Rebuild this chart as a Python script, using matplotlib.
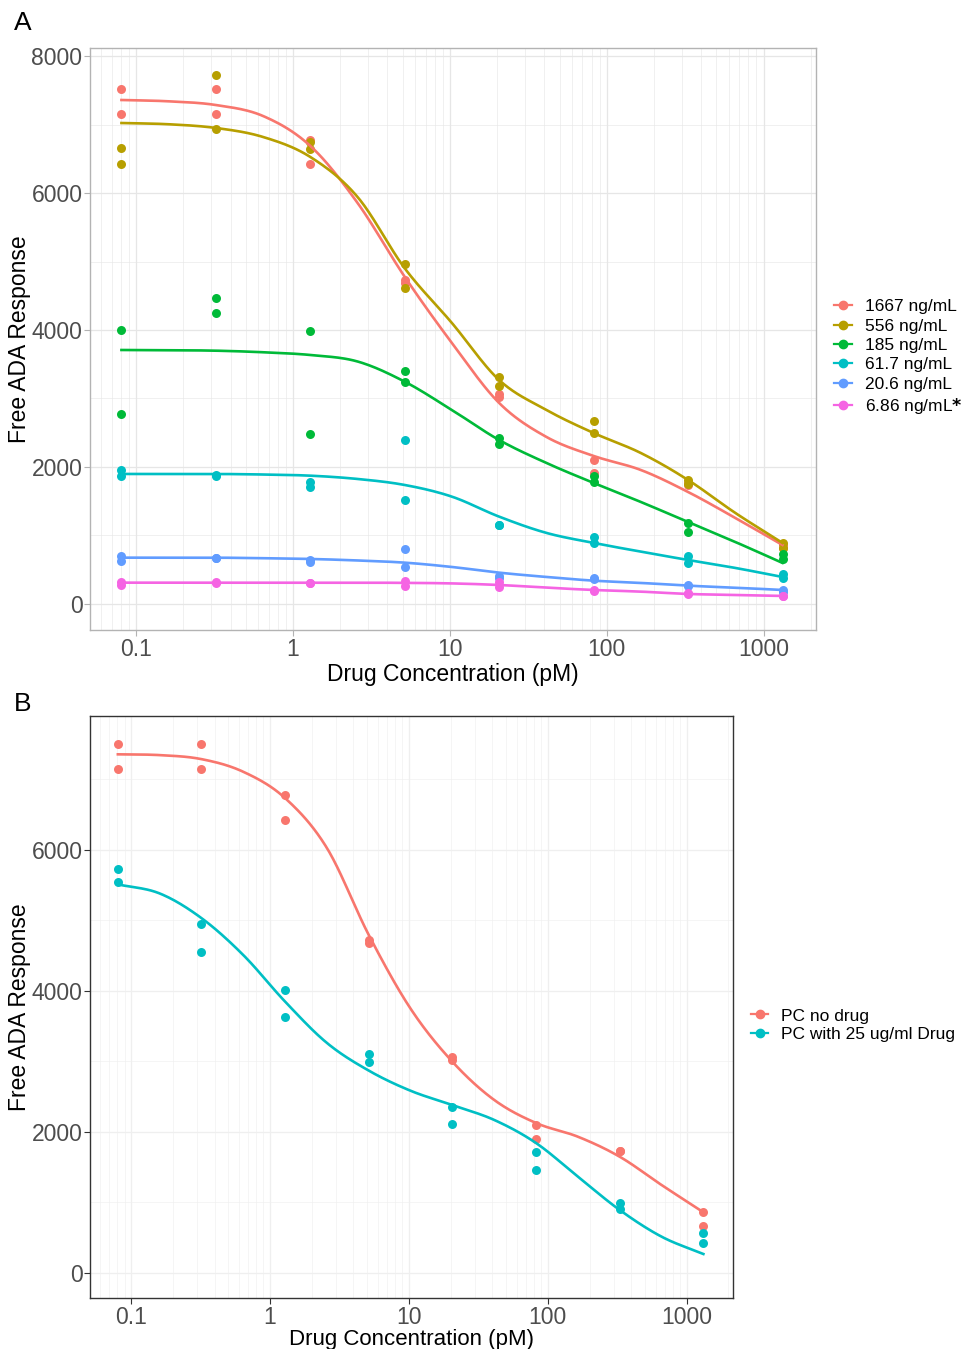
import numpy as np
import matplotlib
matplotlib.use("Agg")
import matplotlib.pyplot as plt
from matplotlib.lines import Line2D
from matplotlib.ticker import FixedLocator, NullFormatter

plt.rcParams['font.family'] = ['Liberation Sans', 'DejaVu Sans']

# 4-fold dilution series of drug (pM), two replicates each
conc = [0.0806, 0.322, 1.29, 5.16, 20.6, 82.5, 330, 1320]
fit_conc = [0.0806, 0.161, 0.322, 0.645, 1.29, 2.58, 5.16, 10.3,
            20.6, 41.3, 82.5, 165, 330, 660, 1320]

# panel A: free ADA response per ADA level (rep 1, rep 2 at each conc)
ada_1667 = [[7518, 7153], [7518, 7153], [6774, 6423], [4730, 4681],
            [3066, 3022], [2103, 1912], [1770, 1730], [860, 810]]
ada_556 = [[6661, 6423], [7730, 6934], [6745, 6642], [4964, 4613],
           [3314, 3183], [2672, 2496], [1810, 1752], [890, 818]]
ada_185 = [[4000, 2774], [4467, 4248], [3985, 2482], [3401, 3241],
           [2423, 2336], [1869, 1781], [1182, 1051], [730, 657]]
ada_61_7 = [[1956, 1869], [1883, 1869], [1781, 1708], [2394, 1518],
            [1153, 1153], [978, 891], [701, 599], [438, 380]]
ada_20_6 = [[701, 628], [672, 672], [642, 613], [803, 540],
            [409, 380], [380, 365], [277, 262], [204, 175]]
ada_6_86 = [[321, 277], [321, 310], [306, 300], [336, 263],
            [321, 248], [204, 190], [160, 146], [117, 110]]

# fitted curves in panel A (values at fit_conc)
fit_1667 = [7358, 7339, 7285, 7124, 6687, 5855, 4775, 3811, 2935, 2438,
            2161, 1956, 1635, 1256, 861]
fit_556 = [7022, 7004, 6950, 6818, 6526, 5942, 4900, 4103, 3270, 2832,
           2496, 2204, 1810, 1329, 891]
fit_185 = [3708, 3705, 3698, 3675, 3635, 3540, 3245, 2832, 2394, 2058,
           1767, 1489, 1197, 905, 599]
fit_61_7 = [1898, 1898, 1898, 1890, 1873, 1825, 1737, 1567, 1275, 1037,
            891, 764, 642, 526, 394]
fit_20_6 = [676, 676, 676, 668, 657, 635, 603, 540, 457, 394, 340, 307,
            267, 238, 204]
fit_6_86 = [311, 311, 311, 311, 311, 311, 308, 300, 277, 238, 204, 180,
            146, 131, 117]

labels_a = ["1667 ng/mL", "556 ng/mL", "185 ng/mL", "61.7 ng/mL",
            "20.6 ng/mL", "6.86 ng/mL"]
series_a = [ada_1667, ada_556, ada_185, ada_61_7, ada_20_6, ada_6_86]
fits_a = [fit_1667, fit_556, fit_185, fit_61_7, fit_20_6, fit_6_86]
colors_a = ["#F8766D", "#B79F00", "#00BA38", "#00BFC4", "#619CFF", "#F564E3"]

# panel B
pc_no_drug = [[7508, 7153], [7508, 7153], [6780, 6426], [4723, 4681],
              [3064, 3021], [2099, 1900], [1730, 1730], [865, 667]]
pc_drug = [[5735, 5550], [4950, 4557], [4014, 3631], [3106, 2993],
           [2359, 2113], [1720, 1461], [997, 908], [567, 426]]
fit_no_drug = [7357, 7346, 7289, 7109, 6735, 6026, 4793, 3750, 2997, 2453,
               2127, 1933, 1649, 1248, 861]
fit_drug = [5512, 5384, 5034, 4509, 3848, 3262, 2870, 2585, 2382, 2170,
            1843, 1366, 893, 515, 269]
labels_b = ["PC no drug", "PC with 25 ug/ml Drug"]
series_b = [pc_no_drug, pc_drug]
fits_b = [fit_no_drug, fit_drug]
colors_b = ["#F8766D", "#00BFC4"]


def smooth_line(xk, yk, n=300):
    # catmull-rom style cubic hermite through the read-off curve values
    xk = np.asarray(xk, float)
    yk = np.asarray(yk, float)
    m = np.gradient(yk, xk)
    xs = np.linspace(xk[0], xk[-1], n)
    k = np.clip(np.searchsorted(xk, xs) - 1, 0, len(xk) - 2)
    h = xk[k + 1] - xk[k]
    s = (xs - xk[k]) / h
    ys = ((2 * s**3 - 3 * s**2 + 1) * yk[k] + (s**3 - 2 * s**2 + s) * h * m[k]
          + (-2 * s**3 + 3 * s**2) * yk[k + 1] + (s**3 - s**2) * h * m[k + 1])
    return xs, ys


def draw_panel(ax, series, fits, colors, grid_col, border_col):
    for vals, fit, col in zip(series, fits, colors):
        yy = np.array(vals, dtype=float).ravel()
        xx = np.repeat(conc, 2)
        ax.scatter(xx, yy, s=42, color=col, zorder=3, linewidths=0)
        xs, ys = smooth_line(np.log10(fit_conc), fit)
        ax.plot(10 ** xs, ys, color=col, lw=1.9, zorder=4)
    ax.set_xscale("log")
    ax.set_xlim(10 ** -1.294, 10 ** 3.334)
    ax.set_xticks([0.1, 1, 10, 100, 1000])
    ax.set_xticklabels(["0.1", "1", "10", "100", "1000"])
    minors = [m * 10.0 ** e for e in range(-2, 4) for m in range(2, 10)]
    ax.xaxis.set_minor_locator(FixedLocator(minors))
    ax.xaxis.set_minor_formatter(NullFormatter())
    ax.yaxis.set_minor_locator(FixedLocator(np.arange(1000, 9000, 2000)))
    ax.grid(True, which="major", color=grid_col, lw=0.9)
    ax.grid(True, which="minor", color=grid_col, lw=0.6, alpha=0.7)
    ax.set_axisbelow(True)
    for s in ax.spines.values():
        s.set_color(border_col)
        s.set_linewidth(1.0)
    ax.tick_params(which="major", length=4, color=border_col, labelsize=16.5,
                   labelcolor="#4D4D4D", pad=1.5)
    ax.tick_params(which="minor", length=0)
    ax.set_ylabel("Free ADA Response", fontsize=16.5, labelpad=0)


fig = plt.figure(figsize=(9.69, 13.49), dpi=100)

ax_a = fig.add_axes([0.0929, 0.533, 0.7492, 0.4314])
draw_panel(ax_a, series_a, fits_a, colors_a, "#E6E6E6", "#B3B3B3")
ax_a.set_ylim(-380, 8117)
ax_a.set_yticks([0, 2000, 4000, 6000, 8000])
ax_a.set_xlabel("Drug Concentration (pM)", fontsize=16.5, labelpad=2)

ax_b = fig.add_axes([0.0929, 0.0378, 0.6636, 0.4314])
draw_panel(ax_b, series_b, fits_b, colors_b, "#EFEFEF", "#333333")
ax_b.set_ylim(-355, 7900)
ax_b.set_yticks([0, 2000, 4000, 6000])
ax_b.set_xlabel("Drug Concentration (pM)", fontsize=16, labelpad=0.5)

handles_a = [Line2D([], [], color=c, marker="o", ms=6, lw=1.6) for c in colors_a]
leg_labels_a = labels_a[:-1] + [labels_a[-1] + "$\\mathbf{*}$"]
fig.legend(handles_a, leg_labels_a, loc="center left",
           bbox_to_anchor=(0.861, 0.735), frameon=False, fontsize=12.5,
           handlelength=1.0, handletextpad=0.75, labelspacing=0.24,
           borderpad=0, borderaxespad=0)

handles_b = [Line2D([], [], color=c, marker="o", ms=6, lw=1.6) for c in colors_b]
fig.legend(handles_b, labels_b, loc="center left",
           bbox_to_anchor=(0.775, 0.240), frameon=False, fontsize=12.5,
           handlelength=1.0, handletextpad=0.75, labelspacing=0.2,
           borderpad=0, borderaxespad=0)

fig.text(0.023, 0.983, "A", fontsize=19, ha="center", va="center")
fig.text(0.023, 0.478, "B", fontsize=19, ha="center", va="center")

fig.savefig("out.png", dpi=100)
